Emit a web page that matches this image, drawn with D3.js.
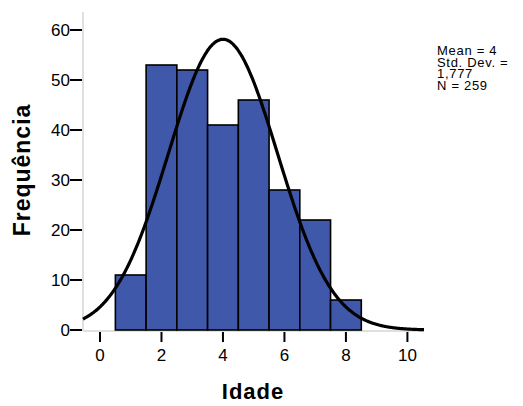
<!DOCTYPE html>
<html><head><meta charset="utf-8">
<script src="https://cdn.jsdelivr.net/npm/d3@7"></script>
<style>body{margin:0;background:#fff}svg{display:block}text{font-family:"Liberation Sans",Arial,sans-serif}</style>
</head><body>
<svg id="c" width="523" height="406"></svg>
<script>
const binStarts = [0.5,1.5,2.5,3.5,4.5,5.5,6.5,7.5];
const binWidth = 1;
const counts = [11,53,52,41,46,28,22,6];
const xTicks = [0,2,4,6,8,10];
const yTicks = [0,10,20,30,40,50,60];
const stats = {mean:4, sd:1.777, n:259};
const legendLines = ["Mean = 4","Std. Dev. =","1,777","N = 259"];

const svg = d3.select("#c");
const x = d3.scaleLinear().domain([-0.553,10.54]).range([83,424]);
const y = d3.scaleLinear().domain([0,60]).range([330,30]);

// axes lines
svg.append("line").attr("x1",83).attr("x2",83).attr("y1",12).attr("y2",331).attr("stroke","#e0e0e0").attr("stroke-width",2);
svg.append("line").attr("x1",83).attr("x2",424).attr("y1",331).attr("y2",331).attr("stroke","#e0e0e0").attr("stroke-width",2);

// bars
svg.selectAll("rect.bar").data(counts).enter().append("rect")
  .attr("x",(d,i)=>x(binStarts[i]))
  .attr("width",(d,i)=>x(binStarts[i]+binWidth)-x(binStarts[i]))
  .attr("y",d=>y(d)).attr("height",d=>y(0)-y(d))
  .attr("fill","#3f58aa").attr("stroke","#000").attr("stroke-width",1.6);

// normal curve
const pts = d3.range(0,401).map(i=>{
  const xv = x.domain()[0] + (x.domain()[1]-x.domain()[0])*i/400;
  const z = (xv-stats.mean)/stats.sd;
  return [xv, stats.n*binWidth/(stats.sd*Math.sqrt(2*Math.PI))*Math.exp(-0.5*z*z)];
});
svg.append("path").datum(pts)
  .attr("d",d3.line().x(d=>x(d[0])).y(d=>y(d[1])).curve(d3.curveBasis))
  .attr("fill","none").attr("stroke","#000").attr("stroke-width",3.2);

// y ticks
const ya = svg.append("g");
yTicks.forEach(t=>{
  ya.append("line").attr("x1",70).attr("x2",82).attr("y1",y(t)).attr("y2",y(t)).attr("stroke","#000").attr("stroke-width",2);
  ya.append("text").attr("x",70).attr("y",y(t)).attr("dy","0.36em").attr("text-anchor","end").attr("font-size",17).text(t);
});
// x ticks
xTicks.forEach(t=>{
  svg.append("line").attr("x1",x(t)).attr("x2",x(t)).attr("y1",332).attr("y2",342).attr("stroke","#000").attr("stroke-width",2);
  svg.append("text").attr("x",x(t)).attr("y",361).attr("text-anchor","middle").attr("font-size",17).text(t);
});

svg.append("text").attr("x",253).attr("y",399).attr("text-anchor","middle").attr("font-size",22).attr("letter-spacing",1).attr("font-weight","bold").text("Idade");
svg.append("text").attr("transform","translate(30,170) rotate(-90)").attr("text-anchor","middle").attr("font-size",23).attr("letter-spacing",1).attr("font-weight","bold").text("Frequência");

const leg = svg.append("text").attr("x",437).attr("y",55).attr("font-size",13).attr("letter-spacing",0.7);
legendLines.forEach((s,i)=>{
  leg.append("tspan").attr("x",437).attr("dy",i===0?0:11.6).text(s);
});
</script>
</body></html>
